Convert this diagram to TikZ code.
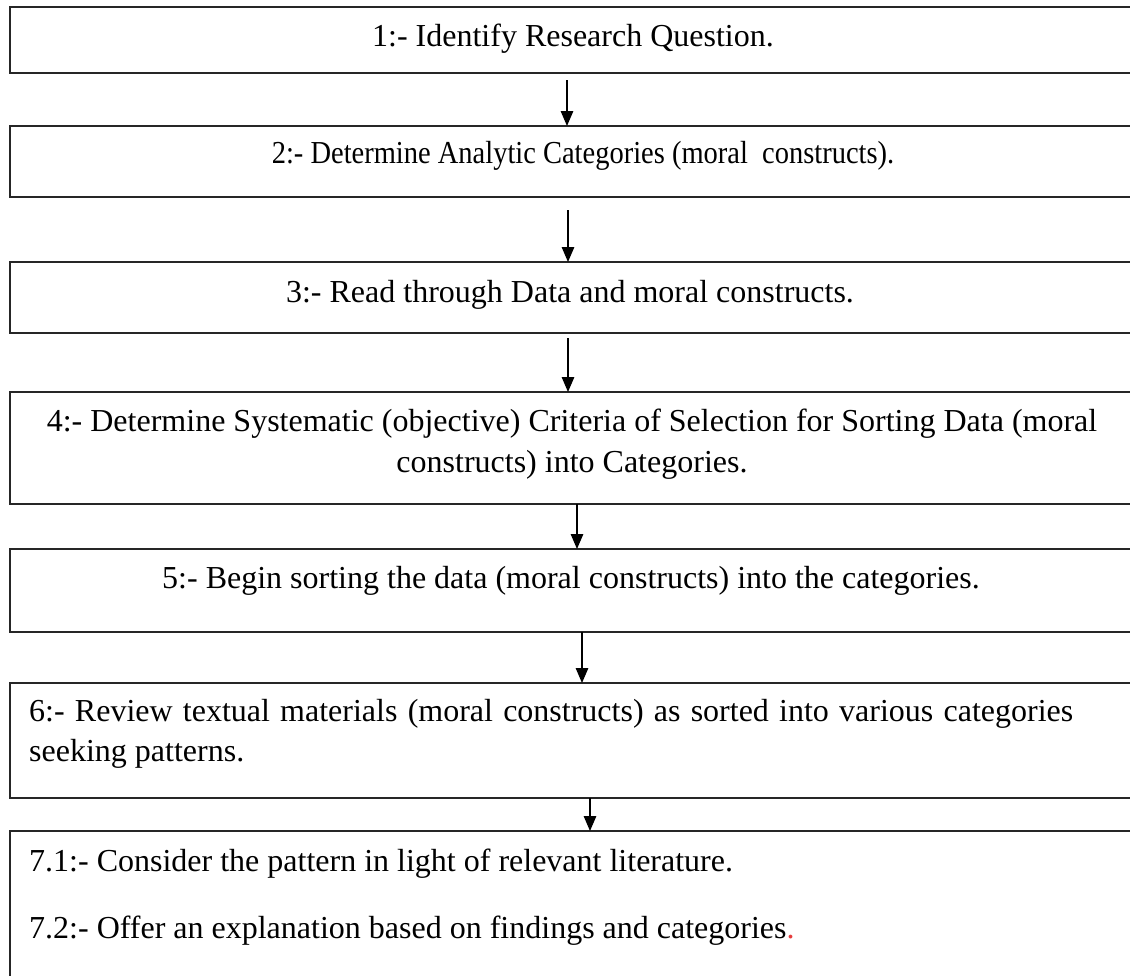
\documentclass[tikz,border=0pt]{standalone}
\usepackage{fontspec}
\usepackage{graphicx}
\setmainfont{Liberation Serif}
\usetikzlibrary{arrows.meta,calc}
\definecolor{redmark}{RGB}{230,60,60}
\begin{document}
\begin{tikzpicture}[x=1pt,y=1pt,
  box/.style={draw=black!85,line width=1.7pt,rectangle,inner sep=0pt,outer sep=0pt,anchor=north west,minimum width=1125pt},
  lbl/.style={font=\fontsize{32}{40}\selectfont,inner sep=0pt,anchor=base},
  lbll/.style={font=\fontsize{32}{40}\selectfont,inner sep=0pt,anchor=base west},
  arr/.style={line width=1.3pt,-{Triangle[width=12.5pt,length=15pt]}}]
\useasboundingbox (0,0) rectangle (1130,-975);
\clip (0,0) rectangle (1130,-975);
\fill[white] (0,0) rectangle (1130,-975);
% boxes
\node[box,minimum height=66pt]  (b1) at (10,-7)   {};
\node[box,minimum height=71pt]  (b2) at (10,-126) {};
\node[box,minimum height=71pt]  (b3) at (10,-262) {};
\node[box,minimum height=112pt] (b4) at (10,-392) {};
\node[box,minimum height=83pt]  (b5) at (10,-549) {};
\node[box,minimum height=115pt] (b6) at (10,-683) {};
\node[box,minimum height=200pt] (b7) at (10,-831) {};
% texts
\node[lbl] (t1) at (573,-46) {1:- Identify Research Question.};
\node[lbl] (t2) at (583,-163) {\scalebox{0.89}[1]{2:- Determine Analytic Categories (moral\ \ constructs).}};
\node[lbl] (t3) at (570,-302) {3:- Read through Data and moral constructs.};
\node[lbl] (t4a) at (572,-431) {4:- Determine Systematic (objective) Criteria of Selection for Sorting Data (moral};
\node[lbl] (t4b) at (572,-472) {constructs) into Categories.};
\node[lbl] (t5) at (571,-588) {5:- Begin sorting the data (moral constructs) into the categories.};
\node[lbll] (t6a) at (29,-721) {\makebox[1044pt][s]{6:- Review textual materials (moral constructs) as sorted into various categories}};
\node[lbll] (t6b) at (29,-761) {seeking patterns.};
\node[lbll] (t7a) at (29,-871) {7.1:- Consider the pattern in light of relevant literature.};
\node[lbll] (t7b) at (29,-938) {7.2:- Offer an explanation based on findings and categories\textcolor{redmark}{.}};
% connectors
\coordinate (a1) at (567,-80);
\coordinate (a2) at (568,-210);
\coordinate (a3) at (568,-338);
\coordinate (a4) at (577,-504);
\coordinate (a5) at (582,-632);
\coordinate (a6) at (590,-798);
\draw[arr] (a1) -- (a1 |- b2.north);
\draw[arr] (a2) -- (a2 |- b3.north);
\draw[arr] (a3) -- (a3 |- b4.north);
\draw[arr] (a4) -- (a4 |- b5.north);
\draw[arr] (a5) -- (a5 |- b6.north);
\draw[arr] (a6) -- (a6 |- b7.north);
\end{tikzpicture}
\end{document}
